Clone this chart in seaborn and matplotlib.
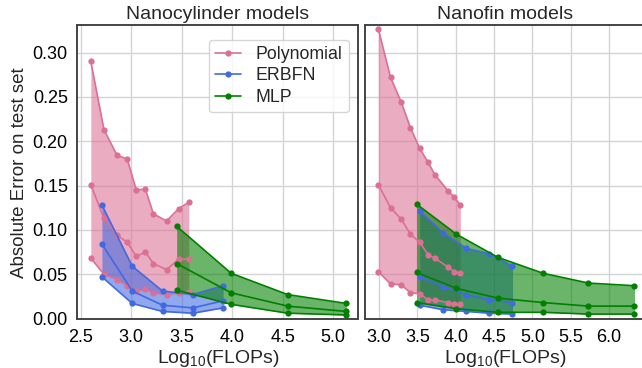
import matplotlib
matplotlib.use("Agg")
import matplotlib.pyplot as plt
import seaborn as sns
import pandas as pd

# ---- data: Nanocylinder models ----
cyl_poly_x = [2.60, 2.73, 2.86, 2.96, 3.05, 3.14, 3.22, 3.35, 3.47, 3.57]
cyl_poly_hi = [0.290, 0.213, 0.184, 0.180, 0.145, 0.146, 0.118, 0.110, 0.124, 0.131]
cyl_poly_mid = [0.151, 0.113, 0.094, 0.086, 0.070, 0.075, 0.062, 0.055, 0.067, 0.067]
cyl_poly_lo = [0.068, 0.050, 0.044, 0.037, 0.031, 0.033, 0.029, 0.027, 0.029, 0.030]

cyl_rbf_x = [2.71, 3.01, 3.31, 3.61, 3.91]
cyl_rbf_hi = [0.128, 0.059, 0.031, 0.027, 0.037]
cyl_rbf_mid = [0.084, 0.031, 0.015, 0.012, 0.020]
cyl_rbf_lo = [0.047, 0.017, 0.008, 0.006, 0.012]

cyl_mlp_x = [3.45, 3.99, 4.55, 5.13]
cyl_mlp_hi = [0.104, 0.051, 0.027, 0.017]
cyl_mlp_mid = [0.062, 0.029, 0.014, 0.008]
cyl_mlp_lo = [0.032, 0.016, 0.006, 0.004]

# ---- data: Nanofin models ----
fin_poly_x = [2.99, 3.15, 3.29, 3.41, 3.53, 3.64, 3.73, 3.90, 3.98, 4.06]
fin_poly_hi = [0.327, 0.272, 0.244, 0.215, 0.192, 0.176, 0.162, 0.144, 0.137, 0.128]
fin_poly_mid = [0.151, 0.125, 0.112, 0.095, 0.086, 0.072, 0.068, 0.058, 0.053, 0.051]
fin_poly_lo = [0.053, 0.039, 0.038, 0.029, 0.028, 0.021, 0.021, 0.018, 0.016, 0.016]

fin_rbf_x = [3.53, 3.83, 4.14, 4.44, 4.74]
fin_rbf_hi = [0.121, 0.097, 0.079, 0.073, 0.059]
fin_rbf_mid = [0.047, 0.036, 0.027, 0.021, 0.018]
fin_rbf_lo = [0.015, 0.010, 0.008, 0.006, 0.005]

fin_mlp_x = [3.49, 4.01, 4.55, 5.14, 5.73, 6.33]
fin_mlp_hi = [0.129, 0.095, 0.069, 0.051, 0.040, 0.037]
fin_mlp_mid = [0.052, 0.034, 0.023, 0.018, 0.014, 0.014]
fin_mlp_lo = [0.018, 0.011, 0.007, 0.007, 0.005, 0.005]

titles = ["Nanocylinder models", "Nanofin models"]
model_names = ["Polynomial", "ERBFN", "MLP"]
colors = ["palevioletred", "royalblue", "green"]
left_xticks = [2.5, 3.0, 3.5, 4.0, 4.5, 5.0]
right_xticks = [3.0, 3.5, 4.0, 4.5, 5.0, 5.5, 6.0]
yticks = [0.00, 0.05, 0.10, 0.15, 0.20, 0.25, 0.30]

sns.set_theme(style="whitegrid")
plt.rcParams["font.family"] = ["Liberation Sans", "DejaVu Sans"]
plt.rcParams["mathtext.fontset"] = "custom"
plt.rcParams["mathtext.rm"] = "Liberation Sans"
plt.rcParams["mathtext.it"] = "Liberation Sans"

fig = plt.figure(figsize=(6.42, 3.68), dpi=100)
ax1 = fig.add_axes([0.1207, 0.132, 0.4377, 0.800])
ax2 = fig.add_axes([0.5685, 0.132, 0.4377, 0.800], sharey=ax1)

panels = [
    (ax1, [(cyl_poly_x, cyl_poly_hi, cyl_poly_mid, cyl_poly_lo),
           (cyl_rbf_x, cyl_rbf_hi, cyl_rbf_mid, cyl_rbf_lo),
           (cyl_mlp_x, cyl_mlp_hi, cyl_mlp_mid, cyl_mlp_lo)]),
    (ax2, [(fin_poly_x, fin_poly_hi, fin_poly_mid, fin_poly_lo),
           (fin_rbf_x, fin_rbf_hi, fin_rbf_mid, fin_rbf_lo),
           (fin_mlp_x, fin_mlp_hi, fin_mlp_mid, fin_mlp_lo)]),
]

for pi, (ax, groups) in enumerate(panels):
    for (x, hi, mid, lo), name, col in zip(groups, model_names, colors):
        ax.fill_between(x, lo, hi, color=col, alpha=0.58, lw=0)
        for k, yv in enumerate([hi, mid, lo]):
            df = pd.DataFrame({"x": x, "y": yv})
            lab = name if (pi == 0 and k == 0) else None
            sns.lineplot(data=df, x="x", y="y", ax=ax, color=col, marker="o",
                         markersize=4.5, markeredgewidth=0, linewidth=1.2,
                         label=lab, legend=False)
    ax.set_title(titles[pi], fontsize=14, pad=4)
    ax.set_xlabel("Log$_{10}$(FLOPs)", fontsize=14, labelpad=1)
    ax.grid(True, color="#d4d4d4", linewidth=1.0)
    for s in ax.spines.values():
        s.set_color("#444444")
        s.set_linewidth(1.4)
    ax.tick_params(labelsize=13, colors="black", pad=1)

ax1.set_xlim(2.468, 5.25)
ax2.set_xlim(2.817, 6.48)
ax1.set_xticks(left_xticks)
ax2.set_xticks(right_xticks)
ax1.set_ylim(-0.001, 0.331)
ax1.set_yticks(yticks)
ax1.set_yticklabels([f"{v:.2f}" for v in yticks])
ax1.set_ylabel("Absolute Error on test set", fontsize=13.5, labelpad=3)
ax2.set_ylabel("")
ax2.tick_params(labelleft=False)

h, l = ax1.get_legend_handles_labels()
ax1.legend(h, l, loc="upper right", fontsize=12.8, frameon=True,
           handlelength=1.5, borderpad=0.35, labelspacing=0.25,
           handletextpad=0.8, bbox_to_anchor=(0.997, 0.98))

fig.savefig("out.png", dpi=100)
